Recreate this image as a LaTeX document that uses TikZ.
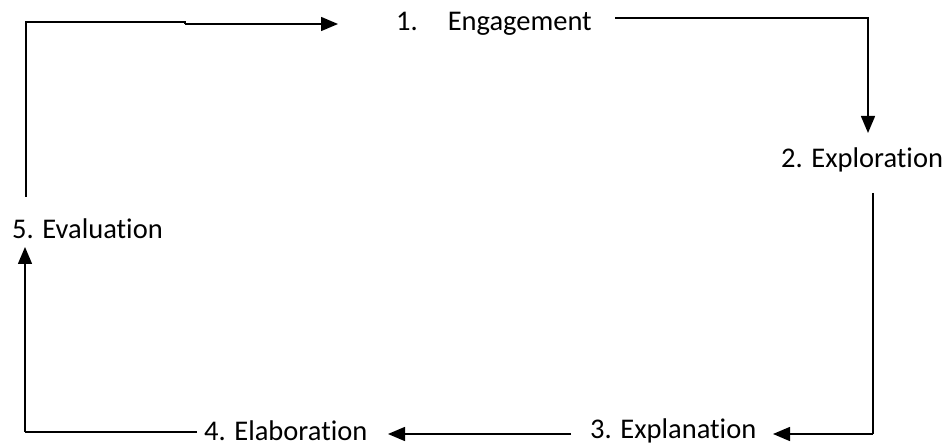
\documentclass[tikz,border=0pt]{standalone}
\usepackage{fontspec}
\setmainfont[Ligatures={NoCommon}]{Carlito}
\usetikzlibrary{arrows.meta}
\begin{document}
\begin{tikzpicture}[x=1pt,y=-1pt,
  lbl/.style={inner sep=0pt,font=\fontsize{28.5}{32}\selectfont},
  conn/.style={line width=1.5pt},
  arr/.style={conn,-{Triangle[length=17pt,width=14pt]}}]
\useasboundingbox (0,0) rectangle (948,446);
\node[lbl,anchor=west] (n1) at (396,24) {1.\hspace{1.05em}Engagement};
\node[lbl,anchor=west] (n2) at (781,160) {2. Exploration};
\node[lbl,anchor=west] (n3) at (590,431) {3. Explanation};
\node[lbl,anchor=west] (n4) at (204,431) {4. Elaboration};
\node[lbl,anchor=west] (n5) at (12,229) {5. Evaluation};
\coordinate (c1) at (26,22);
\coordinate (c2) at (868,18);
\coordinate (c3) at (873,427);
\coordinate (c4) at (25,432);
\coordinate (t1) at (338,24);
\draw[conn] (26,197) -- (c1) -- (185,22) -- (185,24);
\draw[arr] (185,24) -- (t1);
\draw[arr] (615,18) -- (c2) -- (868,133);
\draw[conn] (873,193) -- (c3) -- (873,434);
\draw[arr] (873,434) -- (773,434);
\draw[arr] (571,434) -- (388,434);
\draw[conn] (197,432) -- (c4);
\draw[arr] (c4) -- (25,247);
\end{tikzpicture}
\end{document}
